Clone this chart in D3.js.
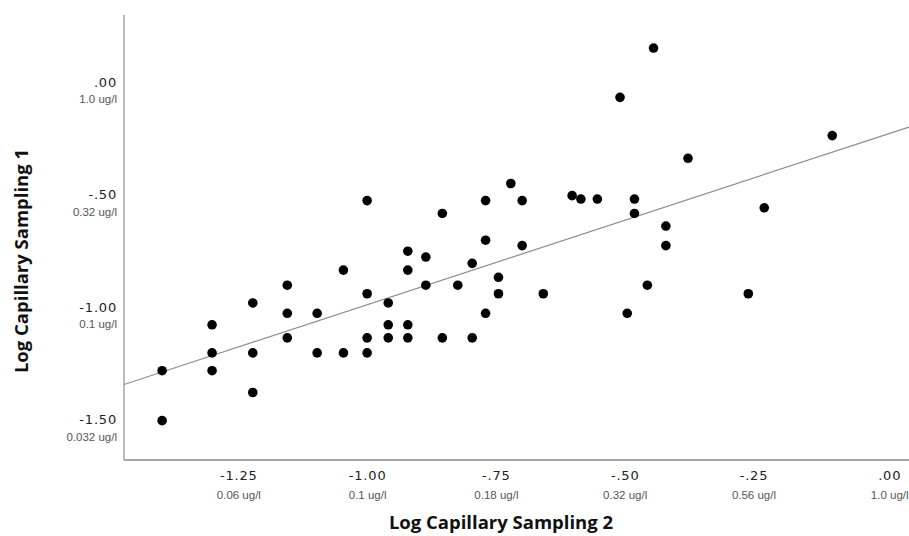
<!DOCTYPE html>
<html>
<head>
<meta charset="utf-8">
<script src="https://cdn.jsdelivr.net/npm/d3@7"></script>
<style>
  html, body { margin: 0; padding: 0; background: #fff; }
  svg { display: block; }
</style>
</head>
<body>
<script>
// ---- data (log10 concentrations) ----
const xValues = [
  -1.398, -1.398,
  -1.301, -1.301, -1.301,
  -1.222, -1.222, -1.222,
  -1.155, -1.155, -1.155,
  -1.097, -1.097,
  -1.046, -1.046,
  -1.000, -1.000, -1.000, -1.000,
  -0.959, -0.959, -0.959,
  -0.921, -0.921, -0.921, -0.921,
  -0.886, -0.886,
  -0.854, -0.854,
  -0.824,
  -0.796, -0.796,
  -0.770, -0.770, -0.770,
  -0.745, -0.745,
  -0.721,
  -0.699, -0.699,
  -0.658,
  -0.602, -0.585, -0.553,
  -0.509, -0.495, -0.481, -0.481, -0.456, -0.444,
  -0.420, -0.420, -0.377,
  -0.260, -0.229, -0.097
];
const yValues = [
  -1.301, -1.523,
  -1.097, -1.222, -1.301,
  -1.000, -1.222, -1.398,
  -0.921, -1.046, -1.155,
  -1.046, -1.222,
  -0.854, -1.222,
  -0.545, -0.959, -1.155, -1.222,
  -1.000, -1.097, -1.155,
  -0.770, -0.854, -1.097, -1.155,
  -0.796, -0.921,
  -0.602, -1.155,
  -0.921,
  -0.824, -1.155,
  -0.545, -0.721, -1.046,
  -0.886, -0.959,
  -0.469,
  -0.545, -0.745,
  -0.959,
  -0.523, -0.538, -0.538,
  -0.086, -1.046, -0.538, -0.602, -0.921, 0.133,
  -0.658, -0.745, -0.357,
  -0.959, -0.577, -0.256
];
// fitted line: y = intercept + slope * x
const fitIntercept = -0.257;
const fitSlope = 0.751;

const xTickValues = [-1.25, -1.00, -0.75, -0.50, -0.25, 0.00];
const xTickLabels = ["-1.25", "-1.00", "-.75", "-.50", "-.25", ".00"];
const xTickUnits  = ["0.06 ug/l", "0.1 ug/l", "0.18 ug/l", "0.32 ug/l", "0.56 ug/l", "1.0 ug/l"];
const yTickValues = [0.00, -0.50, -1.00, -1.50];
const yTickLabels = [".00", "-.50", "-1.00", "-1.50"];
const yTickUnits  = ["1.0 ug/l", "0.32 ug/l", "0.1 ug/l", "0.032 ug/l"];

const xTitle = "Log Capillary Sampling 2";
const yTitle = "Log Capillary Sampling 1";

// ---- layout ----
const W = 909, H = 536;
const plot = { left: 124, right: 909, top: 15, bottom: 460 };

const svg = d3.select("body").append("svg")
  .attr("width", W).attr("height", H);

const x = d3.scaleLinear().domain([-1.472, 0.052]).range([plot.left, plot.right]);
const y = d3.scaleLinear().domain([-1.698, 0.280]).range([plot.bottom, plot.top]);

// ---- axes ----
const xAxis = d3.axisBottom(x).tickValues(xTickValues).tickSize(0).tickPadding(0);
const gx = svg.append("g").attr("transform", `translate(0,${plot.bottom})`).call(xAxis);
gx.select(".domain").attr("stroke", "#8a8a8a").attr("stroke-width", 1.4)
  .attr("d", `M${plot.left},0H${plot.right}`);
gx.selectAll(".tick text").each(function(d, i) {
  const t = d3.select(this);
  // the last label sits a little right of its tick in the original
  const shift = (i === xTickValues.length - 1) ? 7 : 0;
  t.text(null).attr("y", 0).attr("dy", null);
  t.append("tspan").attr("x", shift).attr("y", 20)
    .attr("font-family", "DejaVu Sans").attr("font-size", 13)
    .attr("letter-spacing", 0.8).attr("fill", "#222")
    .text(xTickLabels[i]);
  t.append("tspan").attr("x", shift).attr("y", 39)
    .attr("font-family", "Liberation Sans").attr("font-size", 11.5)
    .attr("fill", "#555")
    .text(xTickUnits[i]);
});

const yAxis = d3.axisLeft(y).tickValues(yTickValues).tickSize(0).tickPadding(0);
const gy = svg.append("g").attr("transform", `translate(${plot.left},0)`).call(yAxis);
gy.select(".domain").attr("stroke", "#a0a0a0").attr("stroke-width", 1.4)
  .attr("d", `M0,${plot.top}V${plot.bottom}`);
gy.selectAll(".tick text").each(function(d, i) {
  const t = d3.select(this);
  t.text(null).attr("x", 0).attr("dy", null).attr("text-anchor", "end");
  t.append("tspan").attr("x", -7).attr("y", 8.5)
    .attr("font-family", "DejaVu Sans").attr("font-size", 13)
    .attr("letter-spacing", 0.8).attr("fill", "#222")
    .text(yTickLabels[i]);
  t.append("tspan").attr("x", -7).attr("y", 25)
    .attr("font-family", "Liberation Sans").attr("font-size", 11.5)
    .attr("fill", "#555")
    .text(yTickUnits[i]);
});

// ---- fit line ----
svg.append("clipPath").attr("id", "plotclip")
  .append("rect").attr("x", plot.left).attr("y", plot.top)
  .attr("width", plot.right - plot.left).attr("height", plot.bottom - plot.top);

const [x0, x1] = x.domain();
svg.append("line")
  .attr("clip-path", "url(#plotclip)")
  .attr("x1", x(x0)).attr("y1", y(fitIntercept + fitSlope * x0))
  .attr("x2", x(x1)).attr("y2", y(fitIntercept + fitSlope * x1))
  .attr("stroke", "#8c8c8c").attr("stroke-width", 1.2);

// ---- points ----
const points = xValues.map((v, i) => ({ x: v, y: yValues[i] }));
svg.append("g").selectAll("circle").data(points).join("circle")
  .attr("cx", d => x(d.x)).attr("cy", d => y(d.y))
  .attr("r", 4.8).attr("fill", "#000");

// ---- titles ----
svg.append("text")
  .attr("x", 501).attr("y", 529)
  .attr("text-anchor", "middle")
  .attr("font-family", "Open Sans").attr("font-weight", 700).attr("font-size", 18.5)
  .attr("fill", "#111")
  .text(xTitle);

svg.append("text")
  .attr("transform", "translate(28,261) rotate(-90)")
  .attr("text-anchor", "middle")
  .attr("font-family", "Open Sans").attr("font-weight", 700).attr("font-size", 18.5)
  .attr("fill", "#111")
  .text(yTitle);
</script>
</body>
</html>
